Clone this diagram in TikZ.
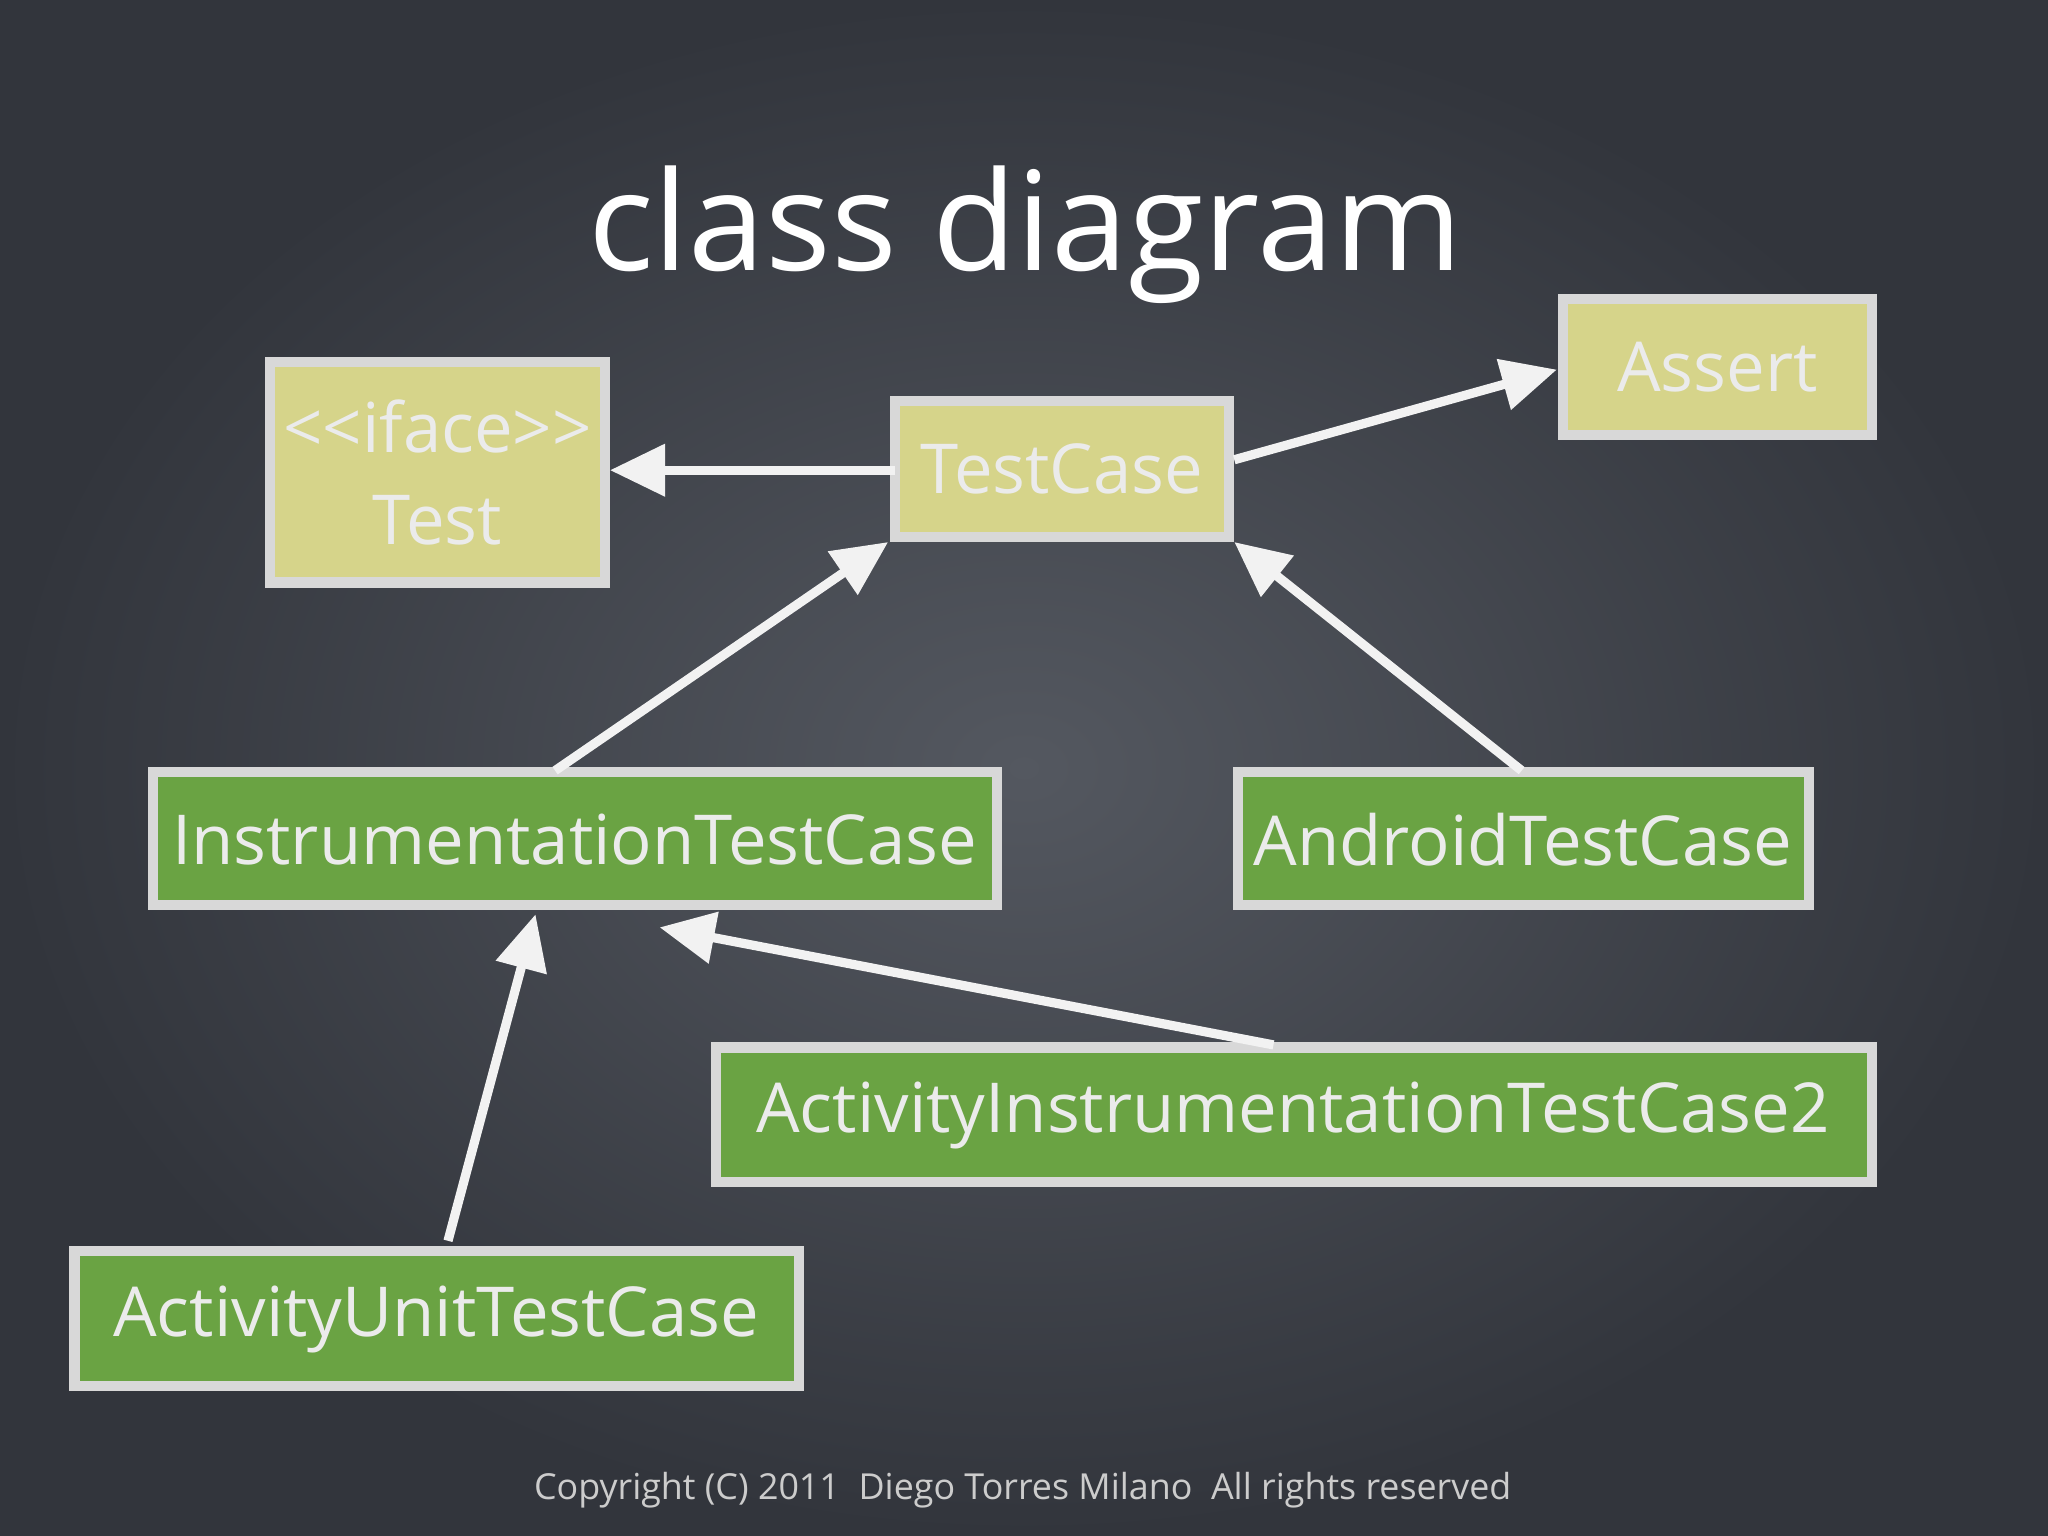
\documentclass[tikz,border=0pt]{standalone}
\usepackage{fontspec}
\setmainfont{Open Sans}
\usetikzlibrary{arrows.meta}
\definecolor{ybox}{HTML}{D6D48A}
\definecolor{gbox}{HTML}{6AA343}
\definecolor{bord}{HTML}{D8D8D8}
\begin{document}
\begin{tikzpicture}[x=0.01cm,y=-0.01cm,
  cls/.style={draw=bord,line width=2.2pt},
  yc/.style={cls,fill=ybox},
  gc/.style={cls,fill=gbox},
  lbl/.style={text=white!92!black,font=\fontsize{15}{18}\selectfont,align=center},
  arr/.style={draw=white!95!black,line width=2pt,-{Triangle[open,fill=white!95!black,length=12pt,width=11pt]}}]
\useasboundingbox (0,0) rectangle (1568,1176);
\shade[inner color={rgb,255:red,84;green,88;blue,96},outer color={rgb,255:red,50;green,53;blue,60}] (0,0) rectangle (1568,1176);
\node[text=white,font=\fontsize{30}{36}\selectfont] (title) at (785,180) {class diagram};
\path[yc] (207,277) rectangle (463,446);
\node[lbl] (test) at (335,362) {<{}<iface>{}>\\[2pt]Test};
\coordinate (testR) at (467,360);
\path[yc] (685,307) rectangle (941,411);
\node[lbl] (tc) at (813,359) {TestCase};
\coordinate (tcL) at (685,360);
\coordinate (tcR) at (945,352);
\coordinate (tcBL) at (680,415);
\coordinate (tcBR) at (945,415);
\path[yc] (1197,229) rectangle (1433,333);
\node[lbl] (assert) at (1315,281) {Assert};
\coordinate (assL) at (1192,283);
\path[gc] (117,591) rectangle (763,693);
\node[lbl] (itc) at (440,643) {InstrumentationTestCase};
\coordinate (itcT) at (425,590);
\coordinate (itcB1) at (410,700);
\coordinate (itcB2) at (505,710);
\path[gc] (948,591) rectangle (1385,693);
\node[lbl] (atc) at (1166,643) {AndroidTestCase};
\coordinate (atcT) at (1165,590);
\path[gc] (548,802) rectangle (1433,905);
\node[lbl] (aitc) at (990,854) {ActivityInstrumentationTestCase2};
\coordinate (aitcT) at (975,800);
\path[gc] (57,958) rectangle (612,1061);
\node[lbl] (autc) at (334,1010) {ActivityUnitTestCase};
\coordinate (autcT) at (343,950);
\draw[arr] (tcL) -- (testR);
\draw[arr] (tcR) -- (assL);
\draw[arr] (itcT) -- (tcBL);
\draw[arr] (atcT) -- (tcBR);
\draw[arr] (aitcT) -- (itcB2);
\draw[arr] (autcT) -- (itcB1);
\node[text=white!80!black,font=\fontsize{7.8}{9}\selectfont] (copy) at (783,1141) {Copyright (C) 2011\ \ Diego Torres Milano\ \ All rights reserved};
\end{tikzpicture}
\end{document}
